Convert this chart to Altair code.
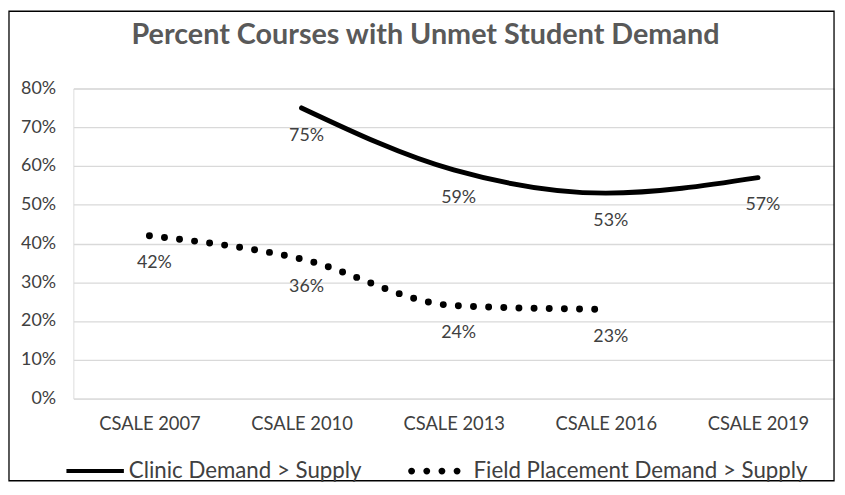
import altair as alt
import pandas as pd

categories = ["CSALE 2007", "CSALE 2010", "CSALE 2013", "CSALE 2016", "CSALE 2019"]
series_names = ["Clinic Demand > Supply", "Field Placement Demand > Supply"]
clinic_years = ["CSALE 2010", "CSALE 2013", "CSALE 2016", "CSALE 2019"]
clinic_values = [0.75, 0.59, 0.53, 0.57]
field_years = ["CSALE 2007", "CSALE 2010", "CSALE 2013", "CSALE 2016"]
field_values = [0.42, 0.36, 0.24, 0.23]
y_ticks = [0, 0.1, 0.2, 0.3, 0.4, 0.5, 0.6, 0.7, 0.8]

rows = [{"year": y, "value": v, "series": series_names[0]} for y, v in zip(clinic_years, clinic_values)]
rows += [{"year": y, "value": v, "series": series_names[1]} for y, v in zip(field_years, field_values)]
df = pd.DataFrame(rows)

W, H = 768, 313
FONT = "Lato"
TXT = "#404040"

# legend symbol shapes (unit square coordinates)
solid_path = "M-1,-0.07L1,-0.07L1,0.07L-1,0.07Z"
r = 0.12
dot_centers = [-0.983, -0.455, 0.073, 0.6]
dots_path = "".join(
    f"M{c - r:.3f},0A{r},{r},0,1,0,{c + r:.3f},0A{r},{r},0,1,0,{c - r:.3f},0Z" for c in dot_centers
)

x_enc = alt.X("year:N", sort=categories, scale=alt.Scale(type="point", domain=categories, padding=0.5),
              axis=alt.Axis(title=None, labelAngle=0, ticks=False, domain=False, grid=False,
                            labelFont=FONT, labelFontSize=18.5, labelColor=TXT, labelPadding=16))
y_enc = alt.Y("value:Q", scale=alt.Scale(domain=[0, 0.8], nice=False),
              axis=alt.Axis(title=None, values=y_ticks, format=".0%", ticks=False, domain=False,
                            grid=True, gridColor="#d9d9d9", gridWidth=1.3, labelOverlap=False,
                            labelFont=FONT, labelFontSize=18, labelColor=TXT, labelPadding=18))

base = alt.Chart(df)

clinic_line = base.transform_filter(alt.datum.series == series_names[0]).mark_line(
    interpolate="monotone", strokeCap="round", color="black", strokeWidth=5
).encode(x=x_enc, y=y_enc)

field_line = base.transform_filter(alt.datum.series == series_names[1]).mark_line(
    interpolate="monotone", strokeCap="round", color="black", strokeWidth=7, strokeDash=[0, 15.3]
).encode(x=x_enc, y=y_enc)

labels = base.mark_text(font=FONT, fontSize=18, color=TXT, dy=28, dx=5, baseline="middle").encode(
    x=x_enc,
    y=y_enc,
    text=alt.Text("value:Q", format=".0%"),
)

legend_layer = base.mark_point(filled=True, color="black", opacity=0).encode(
    x=x_enc,
    y=y_enc,
    shape=alt.Shape("series:N", scale=alt.Scale(domain=series_names, range=[solid_path, dots_path]),
                    legend=alt.Legend(title=None, orient="none", legendX=-7, legendY=357, direction="horizontal",
                                      labelFont=FONT, labelFontSize=22.5, labelColor=TXT, labelOffset=5,
                                      labelLimit=500, columnPadding=46, symbolSize=3364,
                                      symbolFillColor="black", symbolOpacity=1, symbolStrokeWidth=0,
                                      padding=0)),
)

border = alt.Chart(pd.DataFrame({"a": [0]})).mark_rect(fill=None, stroke="black", strokeWidth=1.3).encode(
    x=alt.value(-65), x2=alt.value(W), y=alt.value(-78), y2=alt.value(396)
)

chart = alt.layer(border, clinic_line, field_line, labels, legend_layer).properties(
    width=W, height=H,
    title=alt.TitleParams("Percent Courses with Unmet Student Demand", font=FONT, fontSize=29, fontWeight="bold",
                          color="#595959", anchor="middle", frame="bounds", baseline="alphabetic",
                          offset=-63, dx=4),
    autosize=alt.AutoSizeParams(type="none"),
    padding={"left": 66, "top": 79, "right": 3, "bottom": 84},
).configure_view(stroke=None).configure(background="white")

chart.save("out.html", embed_options={"renderer": "svg", "actions": False})
